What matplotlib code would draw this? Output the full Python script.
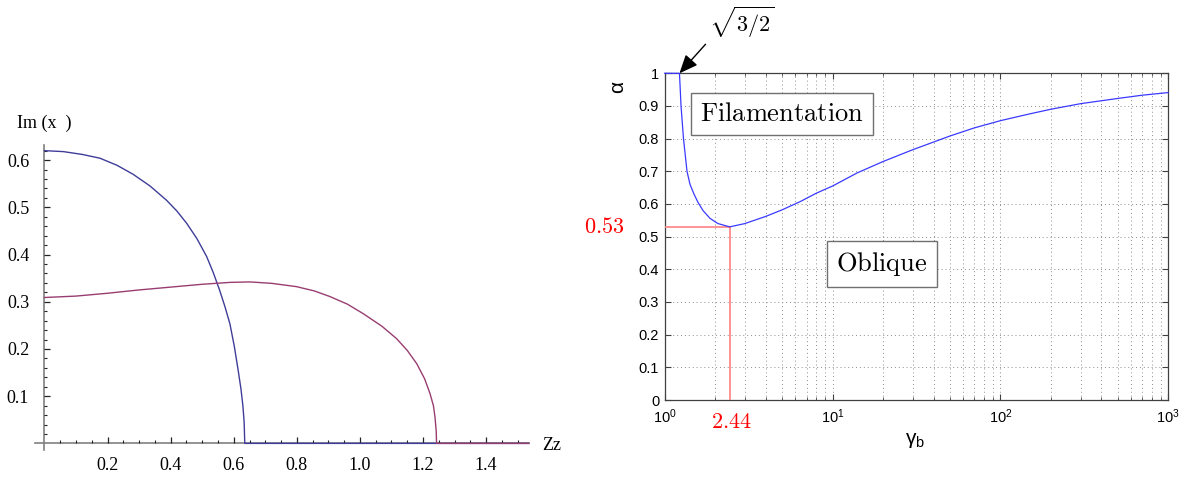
import numpy as np
import matplotlib.pyplot as plt
from matplotlib.ticker import FixedLocator, NullFormatter, LogLocator

# left panel: growth rate of the two branches vs Zz
zz_blue = [0.0, 0.06, 0.12, 0.176, 0.23, 0.281, 0.335, 0.387, 0.42, 0.451, 0.483, 0.514,
           0.535, 0.555, 0.572, 0.588, 0.602, 0.614, 0.623, 0.629, 0.633, 0.635, 1.535]
im_blue = [0.620, 0.618, 0.612, 0.604, 0.589, 0.570, 0.545, 0.515, 0.492, 0.466, 0.434,
           0.396, 0.362, 0.325, 0.290, 0.253, 0.205, 0.155, 0.115, 0.080, 0.045, 0.0, 0.0]
zz_red = [0.0, 0.1, 0.2, 0.3, 0.4, 0.5, 0.588, 0.651, 0.72, 0.799, 0.855, 0.905, 0.96,
          1.01, 1.07, 1.116, 1.15, 1.18, 1.205, 1.222, 1.233, 1.238, 1.242, 1.243, 1.535]
im_red = [0.309, 0.312, 0.318, 0.325, 0.331, 0.337, 0.341, 0.342, 0.339, 0.332, 0.323,
          0.311, 0.295, 0.275, 0.248, 0.222, 0.197, 0.169, 0.137, 0.106, 0.080, 0.056,
          0.025, 0.0, 0.0]
zz_ticks = [0.2, 0.4, 0.6, 0.8, 1.0, 1.2, 1.4]
im_ticks = [0.1, 0.2, 0.3, 0.4, 0.5, 0.6]

# right panel: filamentation / oblique boundary
gamma_b = [1.0, 1.2247, 1.251, 1.294, 1.358, 1.415, 1.495, 1.579, 1.691, 1.861, 2.077,
           2.44, 3.0, 4.0, 5.0, 6.4, 8.0, 10, 14, 20, 30, 50, 70, 100, 150, 200, 300, 500,
           700, 1000]
alpha = [1.0, 1.0, 0.900, 0.800, 0.700, 0.660, 0.630, 0.605, 0.580, 0.556, 0.540, 0.530,
         0.540, 0.562, 0.582, 0.607, 0.633, 0.655, 0.695, 0.730, 0.766, 0.808, 0.833,
         0.855, 0.876, 0.890, 0.907, 0.923, 0.933, 0.941]
gamma_min, alpha_min = 2.44, 0.53
gamma_edge = np.sqrt(3 / 2)

plt.rcParams['font.family'] = ['Liberation Sans', 'DejaVu Sans']
W, H = 1185, 482
fig = plt.figure(figsize=(W / 100, H / 100), dpi=100)

# ---- left panel, Mathematica-like axes through the origin
ax1 = fig.add_axes([35 / W, 32 / H, 494.3 / W, 305 / H])
ax1.set_xlim(-0.030, 1.537)
ax1.set_ylim(-0.014, 0.632)
for s in ['top', 'right']:
    ax1.spines[s].set_visible(False)
ax1.spines['left'].set_position(('data', 0))
ax1.spines['bottom'].set_position(('data', 0))
for s in ['left', 'bottom']:
    ax1.spines[s].set_color('#808080')
    ax1.spines[s].set_linewidth(1.2)
    ax1.spines[s].set_zorder(1)
blue = (0.247, 0.24, 0.6)
plum = (0.6, 0.24, 0.443)
ax1.plot(zz_blue, im_blue, color=blue, lw=1.0, zorder=3, clip_on=False)
ax1.plot(zz_red, im_red, color=plum, lw=1.0, zorder=3, clip_on=False)

ax1.xaxis.set_major_locator(FixedLocator(zz_ticks))
ax1.xaxis.set_minor_locator(FixedLocator(
    [v for v in np.arange(0.05, 1.53, 0.05) if min(abs(v - t) for t in zz_ticks) > 1e-6]))
ax1.yaxis.set_major_locator(FixedLocator(im_ticks))
ax1.yaxis.set_minor_locator(FixedLocator(
    [v for v in np.arange(0.02, 0.63, 0.02) if min(abs(v - t) for t in im_ticks) > 1e-6]))
ax1.set_xticklabels([f'{v:.1f}' for v in zz_ticks])
ax1.set_yticklabels([f'{v:.1f}' for v in im_ticks])
ax1.tick_params(which='major', direction='in', length=4.5, width=0.9, color='#222222')
ax1.tick_params(which='minor', direction='in', length=2.5, width=0.8, color='#222222')
ax1.tick_params(axis='x', which='major', pad=10)
ax1.tick_params(axis='y', which='major', pad=11)
for lab in ax1.get_xticklabels() + ax1.get_yticklabels():
    lab.set_fontfamily('Liberation Serif')
    lab.set_fontsize(13)
fig.text(17 / W, 1 - 123 / H, 'Im (x  )', family='Liberation Serif', fontsize=13,
         ha='left', va='center')
fig.text(542 / W, 1 - 445 / H, 'Zz', family='Liberation Serif', fontsize=13,
         ha='left', va='center')

# ---- right panel, MATLAB-like semilog axes
ax2 = fig.add_axes([664.7 / W, 82 / H, 503.6 / W, 326.7 / H])
ax2.set_xscale('log')
ax2.set_xlim(1, 1000)
ax2.set_ylim(0, 1)
ax2.set_yticks(np.arange(0, 1.01, 0.1))
ax2.set_yticklabels(['0'] + [f'{v:.1f}' for v in np.arange(0.1, 0.95, 0.1)] + ['1'])
ax2.xaxis.set_minor_locator(LogLocator(base=10, subs=np.arange(2, 10)))
ax2.xaxis.set_minor_formatter(NullFormatter())
dots = (0, (1, 3))
ax2.grid(True, which='major', ls=dots, color='#8c8c8c', lw=0.7)
ax2.grid(True, which='minor', axis='x', ls=dots, color='#8c8c8c', lw=0.7)
ax2.tick_params(which='both', direction='in', top=True, right=True, labelsize=10.5,
                color='#404040')
ax2.tick_params(which='major', length=4.5, pad=4)
ax2.tick_params(which='minor', length=2.5)
ax2.tick_params(axis='x', which='major', pad=5)
for s in ax2.spines.values():
    s.set_color('#404040')
    s.set_linewidth(0.9)

ax2.plot([1, gamma_min], [alpha_min, alpha_min], color='#ff8080', lw=1.2, zorder=3)
ax2.plot([gamma_min, gamma_min], [0, alpha_min], color='#ff8080', lw=1.2, zorder=3)
ax2.plot(gamma_b, alpha, color='#3a3aff', lw=0.9, zorder=4, clip_on=False)

box = dict(boxstyle='square,pad=0.35', fc='white', ec='#707070', lw=1)
ax2.text(5.01, 0.876, r'$\mathrm{Filamentation}$', math_fontfamily='cm', fontsize=19,
         ha='center', va='center', bbox=box, zorder=5)
ax2.text(19.6, 0.417, r'$\mathrm{Oblique}$', math_fontfamily='cm', fontsize=19,
         ha='center', va='center', bbox=box, zorder=5)

ax2.annotate(f'${alpha_min:.2f}$', xy=(1, alpha_min), xytext=(-43.7, -0.5),
             textcoords='offset points', math_fontfamily='cm', fontsize=16,
             color='red', ha='center', va='center', annotation_clip=False)
ax2.annotate(f'${gamma_min:.2f}$', xy=(gamma_min, 0), xytext=(1.5, -16.3),
             textcoords='offset points', math_fontfamily='cm', fontsize=16,
             color='red', ha='center', va='center', annotation_clip=False)
ax2.annotate(r'$\sqrt{3/2}$', xy=(gamma_edge, 1.0), xytext=(741.7 / W, 1 - 5 / H),
             textcoords='figure fraction', math_fontfamily='cm', fontsize=16,
             ha='center', va='top', annotation_clip=False,
             arrowprops=dict(arrowstyle='-|>,head_length=0.7,head_width=0.3', color='k',
                             lw=1, relpos=(0.0, 0.0), shrinkA=1, shrinkB=0))

fig.text(618 / W, 1 - 87 / H, 'α', fontsize=15, rotation=90, ha='center', va='center')
fig.text(915 / W, 1 - 440 / H, r'γ$_{\mathregular{b}}$', fontsize=15, ha='center',
         va='center')

fig.savefig('out.png', dpi=100)
